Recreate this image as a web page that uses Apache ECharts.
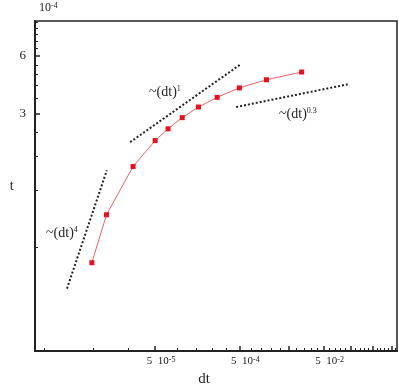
<!DOCTYPE html>
<html>
<head>
<meta charset="utf-8">
<script src="https://cdn.jsdelivr.net/npm/echarts@6/dist/echarts.min.js"></script>
<style>
  html, body { margin: 0; padding: 0; background: #fff; }
  #chart { width: 399px; height: 385px; }
</style>
</head>
<body>
<div id="chart"></div>
<script>
// dt (x) and t (y, in units of 1e-4)
const dtVals = [2.97, 3.35, 4.17, 5.0, 5.56, 6.25, 7.14, 8.33, 10, 12.5, 16.7];
const tVals  = [0.50, 0.89, 1.59, 2.17, 2.5, 2.86, 3.25, 3.65, 4.09, 4.51, 4.95];

// reference slopes (end points)
const slope4 = [[2.42, 0.366], [3.36, 1.52]];
const slope1 = [[4.07, 2.13], [10.1, 5.43]];
const slope03 = [[9.74, 3.25], [24.4, 4.27]];

// ticks
const xMajor = [5, 10, 15, 20, 25, 30, 35];
const xMinor = [2, 3, 4, 6, 7, 8, 9, 11, 12, 13, 14, 16, 17, 18, 19, 21, 22, 23, 24, 26, 27, 28, 29, 31, 32, 33, 34, 36];
const xLabelVals = [5, 10, 20];
const xLabelText = ['5  10{s|-5}', '5  10{s|-4}', '5  10{s|-2}'];
const yMajor = [3, 6];
const yMinor = [0.6, 1.2, 1.8, 2.4, 3.6, 4.2, 4.8, 5.4, 6.6, 7.2, 7.8, 8.4, 9.0];

const FONT = '"Liberation Serif", "DejaVu Serif", serif';
const AXIS_COLOR = '#222';

const chart = echarts.init(document.getElementById('chart'));

const pick = (vals, texts, v) => {
  let best = 0, bd = Infinity;
  vals.forEach((c, i) => {
    const d = Math.abs(Math.log(c) - Math.log(v));
    if (d < bd) { bd = d; best = i; }
  });
  return texts[best];
};

const supRich = {
  s: { fontFamily: FONT, fontSize: 8, color: '#222', verticalAlign: 'top', lineHeight: 8 }
};

const xBase = {
  type: 'log', logBase: 10, min: 1.86, max: 36.6, gridIndex: 0, position: 'bottom',
  splitLine: { show: false }, minorTick: { show: false }, minorSplitLine: { show: false }
};
const yBase = {
  type: 'log', logBase: 10, min: 0.173, max: 9.14, gridIndex: 0, position: 'left',
  splitLine: { show: false }, minorTick: { show: false }, minorSplitLine: { show: false }
};

const option = {
  backgroundColor: '#fff',
  animation: false,
  grid: {
    left: 35, right: 2, top: 21, bottom: 34,
    outerBoundsMode: 'none', containLabel: false,
    show: true, borderColor: AXIS_COLOR, borderWidth: 1.5, backgroundColor: 'transparent'
  },
  xAxis: [
    Object.assign({}, xBase, {
      axisLine: { show: true, lineStyle: { color: AXIS_COLOR, width: 2 } },
      axisTick: { show: true, inside: true, length: 5, customValues: xMajor, lineStyle: { color: AXIS_COLOR, width: 1.5 } },
      axisLabel: {
        show: true, customValues: xLabelVals, margin: 5, padding: [0, 0, 0, 12],
        fontFamily: FONT, fontSize: 11, color: '#222',
        formatter: v => pick(xLabelVals, xLabelText, v),
        rich: supRich
      },
      name: 'dt', nameLocation: 'middle', nameGap: 20,
      nameTextStyle: { fontFamily: FONT, fontSize: 15, color: '#222', padding: [0, 24, 0, 0] }
    }),
    Object.assign({}, xBase, {
      axisLine: { show: false },
      axisTick: { show: true, inside: true, length: 3, customValues: xMinor, lineStyle: { color: AXIS_COLOR, width: 1 } },
      axisLabel: { show: false }
    })
  ],
  yAxis: [
    Object.assign({}, yBase, {
      axisLine: { show: true, lineStyle: { color: AXIS_COLOR, width: 2 } },
      axisTick: { show: true, inside: true, length: 5, customValues: yMajor, lineStyle: { color: AXIS_COLOR, width: 1.5 } },
      axisLabel: {
        show: true, customValues: yMajor, margin: 9,
        fontFamily: FONT, fontSize: 13, color: '#222',
        formatter: v => pick(yMajor, ['3', '6'], v)
      },
      name: 't', nameLocation: 'middle', nameGap: 21, nameRotate: 0,
      nameTextStyle: { fontFamily: FONT, fontSize: 14, color: '#222' }
    }),
    Object.assign({}, yBase, {
      axisLine: { show: false },
      axisTick: { show: true, inside: true, length: 3, customValues: yMinor, lineStyle: { color: AXIS_COLOR, width: 1 } },
      axisLabel: { show: false }
    })
  ],
  graphic: [
    {
      type: 'text', left: 39, top: 2,
      style: { text: '10{s|-4}', fontFamily: FONT, fontSize: 12, fill: '#222', rich: supRich }
    },
    {
      type: 'text', left: 46, top: 226,
      style: { text: '~(dt){s|4}', fontFamily: FONT, fontSize: 14, fill: '#222', rich: supRich }
    },
    {
      type: 'text', left: 149, top: 85,
      style: { text: '~(dt){s|1}', fontFamily: FONT, fontSize: 14, fill: '#222', rich: supRich }
    },
    {
      type: 'text', left: 279, top: 107,
      style: { text: '~(dt){s|0.3}', fontFamily: FONT, fontSize: 14, fill: '#222', rich: supRich }
    }
  ],
  series: [
    {
      type: 'line', xAxisIndex: 0, yAxisIndex: 0,
      data: dtVals.map((x, i) => [x, tVals[i]]),
      symbol: 'rect', symbolSize: 5,
      lineStyle: { color: '#f26068', width: 1 },
      itemStyle: { color: '#e8101e' }
    },
    {
      type: 'line', xAxisIndex: 0, yAxisIndex: 0, data: slope4, symbol: 'none',
      lineStyle: { color: '#222', width: 2, type: [2, 2] }
    },
    {
      type: 'line', xAxisIndex: 0, yAxisIndex: 0, data: slope1, symbol: 'none',
      lineStyle: { color: '#222', width: 2, type: [2, 2] }
    },
    {
      type: 'line', xAxisIndex: 0, yAxisIndex: 0, data: slope03, symbol: 'none',
      lineStyle: { color: '#222', width: 2, type: [2, 2] }
    }
  ]
};

chart.setOption(option);
</script>
</body>
</html>
